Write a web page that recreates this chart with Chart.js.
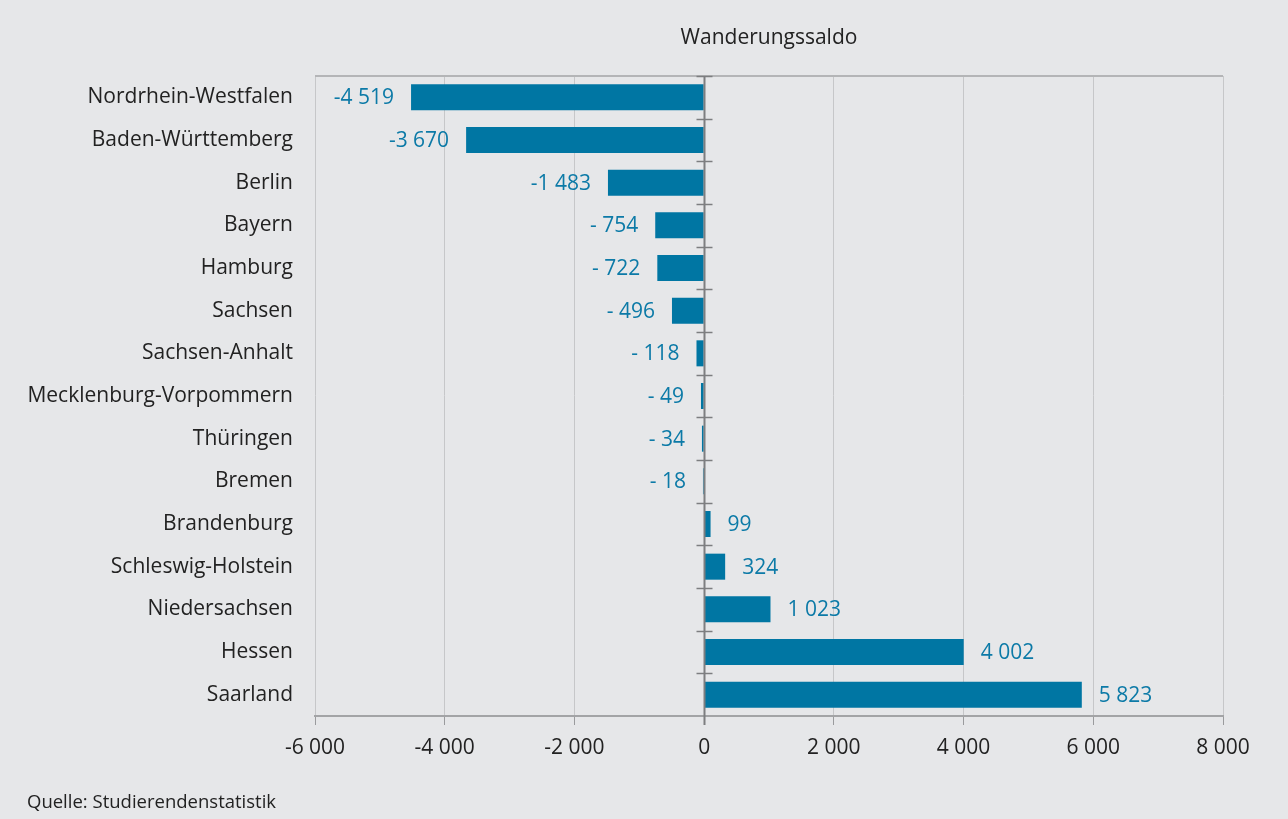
<!DOCTYPE html>
<html><head><meta charset="utf-8">
<script src="https://cdn.jsdelivr.net/npm/chart.js@4/dist/chart.umd.min.js"></script>
<style>html,body{margin:0;padding:0;background:#e6e7e9;}#wrap{width:1288px;height:819px;}</style>
</head><body><div id="wrap"><canvas id="c" width="1288" height="819"></canvas></div>
<script>
const categories = ["Nordrhein-Westfalen","Baden-Württemberg","Berlin","Bayern","Hamburg","Sachsen","Sachsen-Anhalt","Mecklenburg-Vorpommern","Thüringen","Bremen","Brandenburg","Schleswig-Holstein","Niedersachsen","Hessen","Saarland"];
const saldo = [-4519,-3670,-1483,-754,-722,-496,-118,-49,-34,-18,99,324,1023,4002,5823];
const xTicks = [-6000,-4000,-2000,0,2000,4000,6000,8000];
const titleText = "Wanderungssaldo";
const sourceText = "Quelle: Studierendenstatistik";

const FONT = "'Open Sans', 'Noto Sans', sans-serif";
const BLUE = "#0076a3";
const LABEL_BLUE = "#0c7aa7";

function grp(n){ return String(Math.abs(n)).replace(/\B(?=(\d{3})+(?!\d))/g, " "); }
function fmtTick(v){ return (v<0?"-":"") + grp(v); }
function fmtVal(v){ if (v>=0) return grp(v); return Math.abs(v)>=1000 ? "-"+grp(v) : "- "+grp(v); }

const decor = {
  id: 'decor',
  afterDatasetsDraw(chart){
    const {ctx, chartArea:a, scales:{x,y}} = chart;
    ctx.save();
    ctx.strokeStyle = "#b4b5b7"; ctx.lineWidth = 2;
    ctx.beginPath(); ctx.moveTo(a.left, a.top); ctx.lineTo(a.right, a.top); ctx.stroke();
    const x0 = Math.round(x.getPixelForValue(0)) + 0.5;
    ctx.strokeStyle = "#7d7e80"; ctx.lineWidth = 2;
    ctx.beginPath(); ctx.moveTo(x0, a.top); ctx.lineTo(x0, a.bottom + 9); ctx.stroke();
    const n = categories.length;
    const step = (a.bottom - a.top)/n;
    ctx.lineWidth = 1.5;
    for (let i=0;i<n;i++){
      const yy = Math.round(y.getPixelForValue(i) - step/2) + 0.5;
      ctx.beginPath(); ctx.moveTo(x0-8, yy); ctx.lineTo(x0+8, yy); ctx.stroke();
    }
    ctx.fillStyle = LABEL_BLUE;
    ctx.font = "21px " + FONT;
    ctx.textBaseline = "middle";
    const meta = chart.getDatasetMeta(0);
    meta.data.forEach((bar, i) => {
      const v = saldo[i];
      if (v < 0){ ctx.textAlign = "right"; ctx.fillText(fmtVal(v), bar.x - 17, bar.y + 1); }
      else { ctx.textAlign = "left"; ctx.fillText(fmtVal(v), bar.x + 17, bar.y + 1); }
    });
    ctx.fillStyle = "#222"; ctx.font = "18.5px " + FONT;
    ctx.textAlign = "left"; ctx.textBaseline = "alphabetic";
    ctx.fillText(sourceText, 27, 808);
    ctx.restore();
  }
};

new Chart(document.getElementById('c'), {
  type: 'bar',
  data: { labels: categories, datasets: [{ data: saldo, backgroundColor: BLUE, borderWidth: 0, barPercentage: 0.61, categoryPercentage: 1 }] },
  options: {
    indexAxis: 'y', responsive: false, animation: false,
    layout: { padding: { left: 0, right: 65, top: 0, bottom: 0 } },
    plugins: {
      legend: { display: false }, tooltip: { enabled: false },
      title: { display: true, text: titleText, fullSize: false, color: "#222", font: { family: FONT, size: 21, weight: 'normal' }, padding: { top: 25.4, bottom: 25.4 } }
    },
    scales: {
      x: {
        min: -6000, max: 8000,
        afterBuildTicks(s){ s.ticks = xTicks.map(v => ({ value: v })); },
        afterFit(s){ s.height = 103; },
        grid: { color: "#c6c7c9", lineWidth: 1, tickLength: 9, tickColor: "#9a9b9d", drawTicks: true },
        border: { color: "#a3a4a6", width: 2 },
        ticks: { color: "#222", font: { family: FONT, size: 21 }, padding: 10, callback: v => fmtTick(v), maxRotation: 0 }
      },
      y: {
        afterFit(s){ s.width = 315; },
        grid: { display: false, drawTicks: false },
        border: { display: false },
        ticks: { color: "#222", font: { family: FONT, size: 21 }, padding: 22 }
      }
    }
  },
  plugins: [decor]
});
</script></body></html>
